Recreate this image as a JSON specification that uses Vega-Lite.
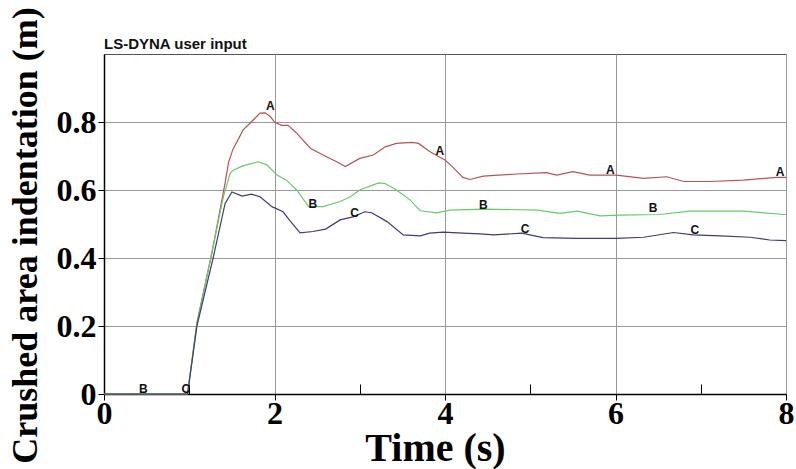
{
  "$schema": "https://vega.github.io/schema/vega-lite/v6.json",
  "autosize": "none",
  "width": 682,
  "height": 340,
  "padding": {"left": 104, "top": 54, "right": 10, "bottom": 75},
  "background": "white",
  "title": {"text": "LS-DYNA user input", "anchor": "start", "frame": "group", "font": "Liberation Sans", "fontSize": 15, "fontWeight": "bold", "color": "#111", "offset": 4, "dy": 61, "baseline": "alphabetic"},
  "config": {"view": {"stroke": "#555", "strokeWidth": 1}},
  "datasets": {
    "curves": [
      {"s":"A","t":0,"v":0},{"s":"A","t":0.98,"v":0},{"s":"A","t":1.09,"v":0.21},{"s":"A","t":1.27,"v":0.42},{"s":"A","t":1.42,"v":0.62},{"s":"A","t":1.46,"v":0.68},{"s":"A","t":1.51,"v":0.718},{"s":"A","t":1.63,"v":0.776},{"s":"A","t":1.75,"v":0.806},{"s":"A","t":1.83,"v":0.826},{"s":"A","t":1.89,"v":0.827},{"s":"A","t":1.95,"v":0.816},{"s":"A","t":2.0,"v":0.8},{"s":"A","t":2.08,"v":0.79},{"s":"A","t":2.16,"v":0.79},{"s":"A","t":2.26,"v":0.767},{"s":"A","t":2.42,"v":0.723},{"s":"A","t":2.57,"v":0.703},{"s":"A","t":2.73,"v":0.683},{"s":"A","t":2.83,"v":0.669},{"s":"A","t":3.0,"v":0.693},{"s":"A","t":3.16,"v":0.703},{"s":"A","t":3.3,"v":0.727},{"s":"A","t":3.43,"v":0.737},{"s":"A","t":3.61,"v":0.74},{"s":"A","t":3.69,"v":0.737},{"s":"A","t":3.82,"v":0.713},{"s":"A","t":3.95,"v":0.695},{"s":"A","t":4.0,"v":0.688},{"s":"A","t":4.1,"v":0.665},{"s":"A","t":4.21,"v":0.637},{"s":"A","t":4.29,"v":0.631},{"s":"A","t":4.45,"v":0.641},{"s":"A","t":4.84,"v":0.647},{"s":"A","t":5.19,"v":0.651},{"s":"A","t":5.31,"v":0.644},{"s":"A","t":5.5,"v":0.654},{"s":"A","t":5.7,"v":0.644},{"s":"A","t":6.01,"v":0.644},{"s":"A","t":6.33,"v":0.634},{"s":"A","t":6.6,"v":0.639},{"s":"A","t":6.8,"v":0.625},{"s":"A","t":7.11,"v":0.625},{"s":"A","t":7.5,"v":0.629},{"s":"A","t":7.89,"v":0.637},{"s":"A","t":8.0,"v":0.637},
      {"s":"B","t":0,"v":0},{"s":"B","t":0.98,"v":0},{"s":"B","t":1.09,"v":0.205},{"s":"B","t":1.26,"v":0.41},{"s":"B","t":1.4,"v":0.58},{"s":"B","t":1.48,"v":0.65},{"s":"B","t":1.52,"v":0.659},{"s":"B","t":1.63,"v":0.671},{"s":"B","t":1.81,"v":0.683},{"s":"B","t":1.91,"v":0.674},{"s":"B","t":2.03,"v":0.644},{"s":"B","t":2.14,"v":0.629},{"s":"B","t":2.26,"v":0.6},{"s":"B","t":2.4,"v":0.551},{"s":"B","t":2.57,"v":0.551},{"s":"B","t":2.77,"v":0.566},{"s":"B","t":2.89,"v":0.58},{"s":"B","t":3.0,"v":0.6},{"s":"B","t":3.22,"v":0.621},{"s":"B","t":3.3,"v":0.619},{"s":"B","t":3.43,"v":0.6},{"s":"B","t":3.59,"v":0.571},{"s":"B","t":3.71,"v":0.539},{"s":"B","t":3.9,"v":0.533},{"s":"B","t":4.06,"v":0.541},{"s":"B","t":4.45,"v":0.544},{"s":"B","t":5.08,"v":0.541},{"s":"B","t":5.35,"v":0.531},{"s":"B","t":5.55,"v":0.538},{"s":"B","t":5.82,"v":0.524},{"s":"B","t":6.05,"v":0.526},{"s":"B","t":6.52,"v":0.528},{"s":"B","t":6.87,"v":0.538},{"s":"B","t":7.5,"v":0.538},{"s":"B","t":7.97,"v":0.528},{"s":"B","t":8.0,"v":0.528},
      {"s":"C","t":0,"v":0},{"s":"C","t":0.98,"v":0},{"s":"C","t":1.09,"v":0.2},{"s":"C","t":1.28,"v":0.4},{"s":"C","t":1.42,"v":0.56},{"s":"C","t":1.5,"v":0.594},{"s":"C","t":1.62,"v":0.582},{"s":"C","t":1.73,"v":0.588},{"s":"C","t":1.83,"v":0.58},{"s":"C","t":1.97,"v":0.551},{"s":"C","t":2.1,"v":0.536},{"s":"C","t":2.18,"v":0.51},{"s":"C","t":2.3,"v":0.474},{"s":"C","t":2.45,"v":0.478},{"s":"C","t":2.6,"v":0.485},{"s":"C","t":2.77,"v":0.512},{"s":"C","t":2.92,"v":0.521},{"s":"C","t":3.06,"v":0.536},{"s":"C","t":3.14,"v":0.533},{"s":"C","t":3.32,"v":0.507},{"s":"C","t":3.51,"v":0.468},{"s":"C","t":3.71,"v":0.465},{"s":"C","t":3.82,"v":0.473},{"s":"C","t":3.98,"v":0.476},{"s":"C","t":4.21,"v":0.473},{"s":"C","t":4.41,"v":0.471},{"s":"C","t":4.57,"v":0.468},{"s":"C","t":4.9,"v":0.473},{"s":"C","t":5.15,"v":0.46},{"s":"C","t":5.55,"v":0.458},{"s":"C","t":6.01,"v":0.458},{"s":"C","t":6.33,"v":0.461},{"s":"C","t":6.68,"v":0.475},{"s":"C","t":6.91,"v":0.468},{"s":"C","t":7.23,"v":0.465},{"s":"C","t":7.58,"v":0.461},{"s":"C","t":7.81,"v":0.453},{"s":"C","t":8.0,"v":0.451}
    ],
    "labels": [
      {"s":"A","t":1.95,"v":0.847},{"s":"A","t":3.94,"v":0.716},{"s":"A","t":5.94,"v":0.658},{"s":"A","t":7.93,"v":0.654},
      {"s":"B","t":0.46,"v":0.016},{"s":"B","t":2.45,"v":0.56},{"s":"B","t":4.45,"v":0.556},{"s":"B","t":6.44,"v":0.546},
      {"s":"C","t":0.96,"v":0.016},{"s":"C","t":2.94,"v":0.532},{"s":"C","t":4.94,"v":0.484},{"s":"C","t":6.93,"v":0.482}
    ]
  },
  "layer": [
    {
      "data": {"name": "curves"},
      "mark": {"type": "line", "strokeWidth": 1.2, "interpolate": "linear"},
      "encoding": {
        "x": {
          "field": "t", "type": "quantitative",
          "scale": {"domain": [0, 8], "nice": false, "zero": false},
          "axis": {
            "values": [0,1,2,3,4,5,6,7,8],
            "title": "Time (s)",
            "titleFont": "Liberation Serif", "titleFontSize": 40, "titleFontWeight": "bold", "titleColor": "#000",
            "titleBaseline": "alphabetic", "titleY": 66, "titleX": 331,
            "labelFont": "Liberation Serif", "labelFontSize": 32, "labelFontWeight": "bold", "labelColor": "#000",
            "labelExpr": "datum.value % 2 === 0 ? ('' + datum.value) : ''",
            "labelPadding": -2, "labelFlush": false, "labelOverlap": false,
            "domainColor": "#000", "domainWidth": 1.5,
            "tickColor": "#000",
            "tickSize": {"condition": {"test": "datum.value % 2 === 1", "value": -10}, "value": 6},
            "grid": true, "gridColor": "#999", "gridWidth": 1,
            "gridOpacity": {"condition": {"test": "datum.value % 2 === 0", "value": 1}, "value": 0}
          }
        },
        "y": {
          "field": "v", "type": "quantitative",
          "scale": {"domain": [0, 1], "nice": false, "zero": false},
          "axis": {
            "values": [0,0.1,0.2,0.3,0.4,0.5,0.6,0.7,0.8,0.9],
            "title": "Crushed area indentation (m)",
            "titleFont": "Liberation Serif", "titleFontSize": 36, "titleFontWeight": "bold", "titleColor": "#000",
            "titleAngle": 270, "titleAlign": "center", "titleBaseline": "middle", "titleX": -79, "titleY": 181,
            "labelFont": "Liberation Serif", "labelFontSize": 32, "labelFontWeight": "bold", "labelColor": "#000",
            "labelExpr": "round(datum.value*10) % 2 === 1 ? '' : (datum.value === 0 ? '0' : format(datum.value, '.1f'))",
            "labelPadding": 2, "labelFlush": false, "labelOverlap": false,
            "domainColor": "#000", "domainWidth": 1.5,
            "tickColor": "#000",
            "tickSize": {"condition": {"test": "round(datum.value*10) % 2 === 1", "value": -9}, "value": 6},
            "grid": true, "gridColor": "#999", "gridWidth": 1,
            "gridOpacity": {"condition": {"test": "round(datum.value*10) % 2 === 0", "value": 1}, "value": 0}
          }
        },
        "color": {
          "field": "s", "type": "nominal",
          "scale": {"domain": ["A","B","C"], "range": ["#b85450", "#66cc66", "#3c3c78"]},
          "legend": null
        }
      }
    },
    {
      "data": {"name": "labels"},
      "mark": {"type": "text", "font": "Liberation Sans", "fontSize": 12, "fontWeight": "bold", "color": "#111", "align": "center", "baseline": "middle"},
      "encoding": {
        "x": {"field": "t", "type": "quantitative"},
        "y": {"field": "v", "type": "quantitative"},
        "text": {"field": "s"}
      }
    }
  ]
}
